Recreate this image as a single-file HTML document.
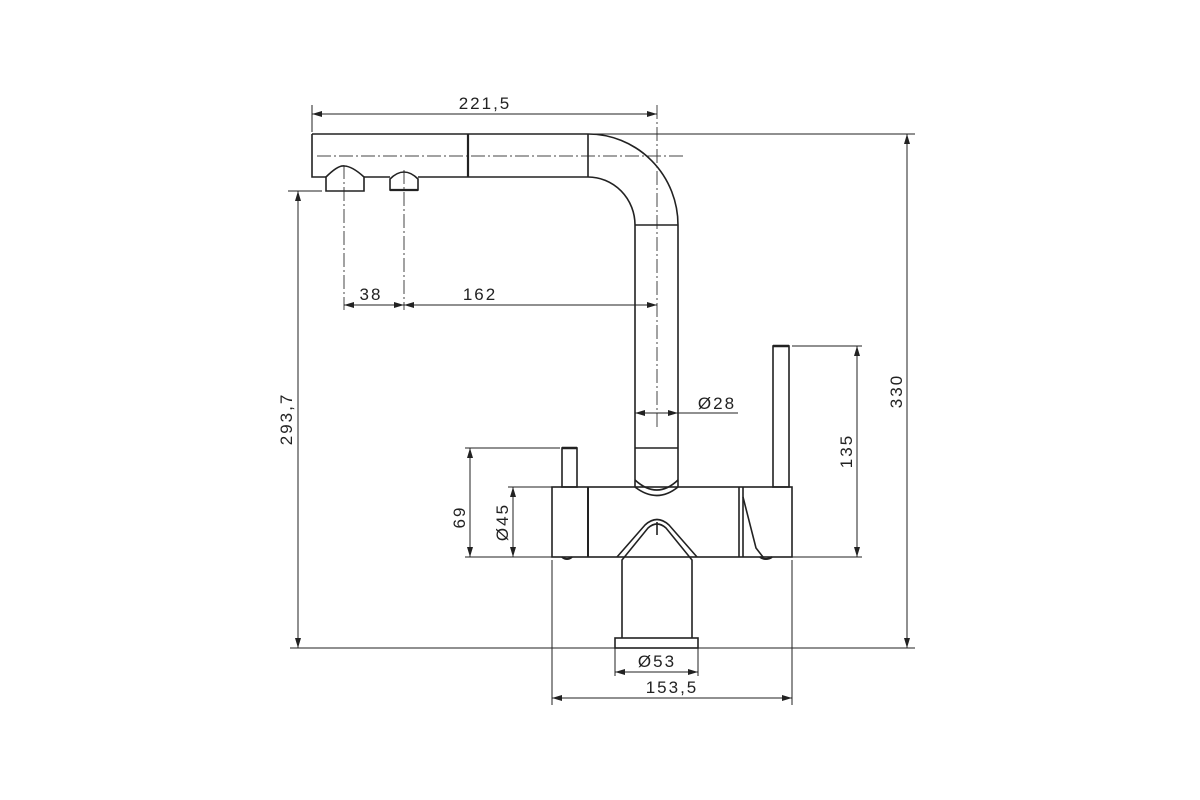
<!DOCTYPE html>
<html><head><meta charset="utf-8"><style>
html,body{margin:0;padding:0;background:#fff;}
svg{display:block;}
text{font-family:"Liberation Sans",sans-serif;font-size:17px;fill:#222;letter-spacing:2px;}
</style></head><body>
<svg width="1200" height="800" viewBox="0 0 1200 800" xmlns="http://www.w3.org/2000/svg">
<defs>
<marker id="a" viewBox="0 0 10 6" refX="10" refY="3" markerWidth="10" markerHeight="6" orient="auto-start-reverse" markerUnits="userSpaceOnUse"><path d="M0,0 L10,3 L0,6 z" fill="#222"/></marker>
</defs>
<g fill="none" stroke="#222" stroke-width="1">
<g stroke-dasharray="14,3,2,3" stroke="#444">
<line x1="317" y1="156" x2="685" y2="156"/>
<line x1="657" y1="105" x2="657" y2="430"/>
<line x1="344" y1="165" x2="344" y2="310"/>
<line x1="404" y1="170" x2="404" y2="310"/>
</g>
<g stroke-width="1.6">
<path d="M312,134 L588,134 A90,91 0 0 1 678,225 L678,487"/>
<path d="M312,134 L312,177 L326,177"/>
<path d="M364,177 L390,177"/>
<path d="M418,177 L588,177 A47,48 0 0 1 635,225 L635,487"/>
<line x1="468" y1="134" x2="468" y2="177" stroke-width="2.2"/>
<line x1="588" y1="134" x2="588" y2="177"/>
<line x1="635" y1="225" x2="678" y2="225"/>
<line x1="635" y1="448" x2="678" y2="448"/>
<path d="M326,191 L326,177 Q338,165 344,166 Q352,166 364,177 L364,191 Z"/>
<path d="M390,190 L390,179 Q397,172 404,172 Q411,172 418,179 L418,190 Z"/>
<line x1="390" y1="190" x2="418" y2="190" stroke-width="2.2"/>
<rect x="552" y="487" width="240" height="70"/>
<line x1="588" y1="487" x2="588" y2="557" stroke-width="2"/>
<line x1="739" y1="487" x2="739" y2="557"/>
<line x1="743" y1="487" x2="743" y2="557"/>
<path d="M743,497 L756,548 L763,557"/>
<rect x="562" y="448" width="15" height="39"/>
<line x1="562" y1="448" x2="577" y2="448" stroke-width="2.5"/>
<rect x="773" y="346" width="16" height="141"/>
<line x1="773" y1="346" x2="789" y2="346" stroke-width="2.5"/>
<path d="M635,480 Q657,500 678,480"/>
<path d="M635,487 Q657,504 678,487"/>
<path d="M622,638 L622,560 L648,528 Q657,520 666,528 L692,560 L692,638"/>
<path d="M617,557 L645,525 Q657,514 669,525 L697,557"/>
<line x1="657" y1="522" x2="657" y2="535"/>
<rect x="615" y="638" width="83" height="10"/>
<path d="M562,557 Q567,561 572,557" stroke-width="2"/>
<path d="M760,557 Q766,561 772,557" stroke-width="2"/>
</g>
<line x1="290" y1="648" x2="915" y2="648"/>
<line x1="588" y1="134" x2="915" y2="134"/>
<line x1="288" y1="191" x2="322" y2="191"/>
<line x1="312" y1="105" x2="312" y2="132"/>
<line x1="792" y1="346" x2="862" y2="346"/>
<line x1="792" y1="557" x2="862" y2="557"/>
<line x1="465" y1="448" x2="560" y2="448"/>
<line x1="465" y1="557" x2="552" y2="557"/>
<line x1="508" y1="487" x2="552" y2="487"/>
<line x1="552" y1="560" x2="552" y2="705"/>
<line x1="792" y1="560" x2="792" y2="705"/>
<line x1="615" y1="648" x2="615" y2="676"/>
<line x1="698" y1="648" x2="698" y2="676"/>
<line x1="312" y1="114" x2="657" y2="114" marker-start="url(#a)" marker-end="url(#a)"/>
<line x1="344" y1="305" x2="404" y2="305" marker-start="url(#a)" marker-end="url(#a)"/>
<line x1="404" y1="305" x2="657" y2="305" marker-start="url(#a)" marker-end="url(#a)"/>
<line x1="298" y1="191" x2="298" y2="648" marker-start="url(#a)" marker-end="url(#a)"/>
<line x1="907" y1="134" x2="907" y2="648" marker-start="url(#a)" marker-end="url(#a)"/>
<line x1="857" y1="346" x2="857" y2="557" marker-start="url(#a)" marker-end="url(#a)"/>
<line x1="470" y1="448" x2="470" y2="557" marker-start="url(#a)" marker-end="url(#a)"/>
<line x1="513" y1="487" x2="513" y2="557" marker-start="url(#a)" marker-end="url(#a)"/>
<line x1="615" y1="672" x2="698" y2="672" marker-start="url(#a)" marker-end="url(#a)"/>
<line x1="552" y1="698" x2="792" y2="698" marker-start="url(#a)" marker-end="url(#a)"/>
<line x1="635" y1="413" x2="678" y2="413" marker-start="url(#a)" marker-end="url(#a)"/>
<line x1="678" y1="413" x2="738" y2="413"/>
</g>
<text x="485" y="109" text-anchor="middle">221,5</text>
<text x="371" y="300" text-anchor="middle">38</text>
<text x="480" y="300" text-anchor="middle">162</text>
<text x="717" y="409" text-anchor="middle">Ø28</text>
<text x="657" y="667" text-anchor="middle">Ø53</text>
<text x="672" y="693" text-anchor="middle">153,5</text>
<text transform="translate(292,419) rotate(-90)" text-anchor="middle">293,7</text>
<text transform="translate(902,391) rotate(-90)" text-anchor="middle">330</text>
<text transform="translate(852,451) rotate(-90)" text-anchor="middle">135</text>
<text transform="translate(465,517) rotate(-90)" text-anchor="middle">69</text>
<text transform="translate(508,522) rotate(-90)" text-anchor="middle">Ø45</text>
</svg>
</body></html>
